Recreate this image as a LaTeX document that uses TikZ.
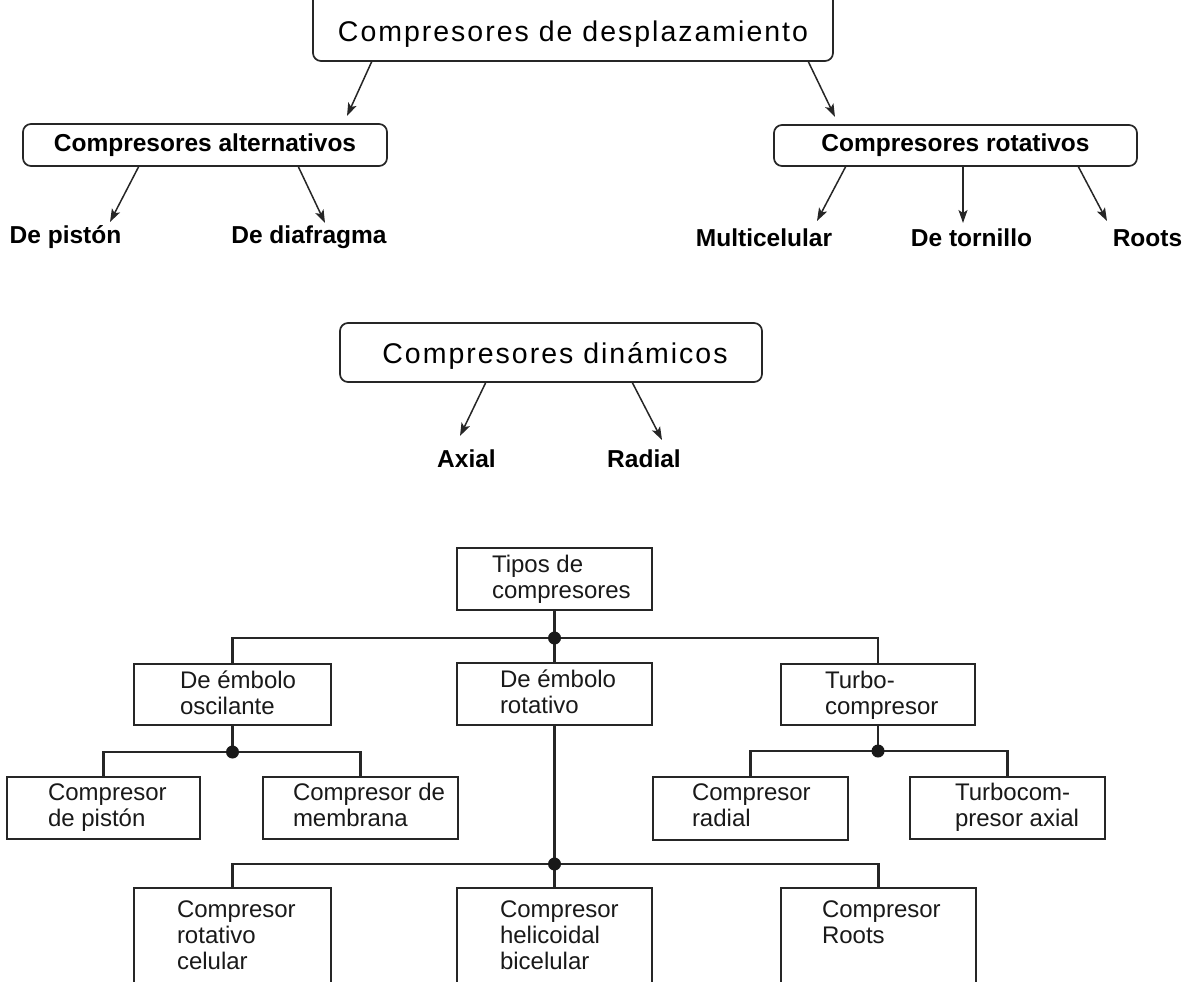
\documentclass[tikz,border=0pt]{standalone}
\usepackage{fontspec}
\setmainfont{Liberation Sans}
\newfontfamily\titlefont[LetterSpace=7]{Liberation Sans}
\usetikzlibrary{arrows.meta,calc}
\newcommand\bxt[5]{\parbox[c][#2][t]{#1}{\leftskip=#3\rightskip=0pt plus 1fil\relax\rule{0pt}{#4}#5}}
\begin{document}
\begin{tikzpicture}[x=1pt,y=-1pt,
  rbox/.style={draw=black!85, line width=1.7pt, rounded corners=8pt, inner sep=0pt, outer sep=0pt, text depth=0pt, text=black},
  ttl/.style={font=\titlefont\fontsize{28.5}{32}\selectfont},
  lab/.style={font=\bfseries\fontsize{24.5}{28}\selectfont, anchor=base, inner sep=0pt, text=black},
  arr/.style={line width=1.5pt, draw=black!85, -{Stealth[length=13pt,width=9pt,inset=3pt]}},
  lowbox/.style={draw=black!85, line width=2.3pt, inner sep=0pt, outer sep=0pt, anchor=north west, text=black!90, font=\fontsize{24}{26}\selectfont},
  conn/.style={line width=2.2pt, draw=black!85},
  dot/.style={fill=black!90}
]
\useasboundingbox (0,0) rectangle (1189,982);

% ---------- top: desplazamiento ----------
\node[rbox, ttl, minimum width=520pt, minimum height=81pt, text height=42.4pt] (title) at (573,20.5) {Compresores de desplazamiento};
\node[rbox, font=\bfseries\fontsize{24.5}{28}\selectfont, minimum width=364pt, minimum height=42pt, text height=13.4pt] (alt) at (205,145) {Compresores alternativos\hspace{16pt}};
\node[rbox, font=\bfseries\fontsize{24.5}{28}\selectfont, minimum width=363pt, minimum height=41pt, text height=12.4pt] (rotv) at (955.5,145.5) {Compresores rotativos\hspace{18pt}};

\node[lab] (piston) at (65.5,243) {De pistón};
\node[lab] (diaf) at (309,243) {De diafragma};
\node[lab] (multi) at (764,246) {Multicelular};
\node[lab] (torn) at (971.5,246) {De tornillo};
\node[lab] (roots1) at (1147.5,246) {Roots};

\coordinate (ts1) at (372,0); \coordinate (te1) at (347,116);
\coordinate (ts2) at (808,0); \coordinate (te2) at (835,117);
\draw[arr] (title.south -| ts1) -- (te1);
\draw[arr] (title.south -| ts2) -- (te2);

\coordinate (as1) at (139,0); \coordinate (ae1) at (110,222);
\coordinate (as2) at (298,0); \coordinate (ae2) at (325,223);
\draw[arr] (alt.south -| as1) -- (ae1);
\draw[arr] (alt.south -| as2) -- (ae2);

\coordinate (rs1) at (846,0); \coordinate (re1) at (817,221);
\coordinate (rs2) at (963,0); \coordinate (re2) at (963,223);
\coordinate (rs3) at (1078,0); \coordinate (re3) at (1107,221);
\draw[arr] (rotv.south -| rs1) -- (re1);
\draw[arr] (rotv.south -| rs2) -- (re2);
\draw[arr] (rotv.south -| rs3) -- (re3);

% ---------- dinamicos ----------
\node[rbox, ttl, minimum width=422pt, minimum height=59pt, text height=21.6pt] (din) at (551,352.5) {Compresores dinámicos\kern-8pt};
\node[lab] (axial) at (466.5,467) {Axial};
\node[lab] (radial1) at (644,467) {Radial};
\coordinate (ds1) at (486,0); \coordinate (de1) at (460,436);
\coordinate (ds2) at (632,0); \coordinate (de2) at (662,440);
\draw[arr] (din.south -| ds1) -- (de1);
\draw[arr] (din.south -| ds2) -- (de2);

% ---------- lower tree ----------
\node[lowbox] (tipos) at (457,548) {\bxt{195pt}{62pt}{35pt}{24pt}{Tipos de\\compresores}};
\node[lowbox] (osc) at (134,664) {\bxt{197pt}{61pt}{46pt}{24pt}{De émbolo\\oscilante}};
\node[lowbox] (rot) at (457,663) {\bxt{195pt}{62pt}{43pt}{24pt}{De émbolo\\rotativo}};
\node[lowbox] (turbo) at (781,664) {\bxt{194pt}{61pt}{44pt}{24pt}{Turbo-\\compresor}};

\node[lowbox] (cpis) at (7,777) {\bxt{193pt}{62pt}{41pt}{23pt}{Compresor\\de pistón}};
\node[lowbox] (memb) at (263,777) {\bxt{195pt}{62pt}{30pt}{23pt}{Compresor de\\membrana}};
\node[lowbox] (crad) at (653,777) {\bxt{195pt}{63pt}{39pt}{23pt}{Compresor\\radial}};
\node[lowbox] (cax) at (910,777) {\bxt{195pt}{62pt}{45pt}{23pt}{Turbocom-\\presor axial}};

\node[lowbox] (celu) at (134,888) {\bxt{197pt}{150pt}{43pt}{29pt}{Compresor\\rotativo\\celular}};
\node[lowbox] (heli) at (457,888) {\bxt{195pt}{150pt}{43pt}{29pt}{Compresor\\helicoidal\\bicelular}};
\node[lowbox] (croots) at (781,888) {\bxt{195pt}{150pt}{41pt}{29pt}{Compresor\\Roots}};

\coordinate (y1) at (0,638);
\coordinate (y2) at (0,752);
\coordinate (y3) at (0,751);
\coordinate (y4) at (0,864);
\coordinate (j1) at (tipos.south |- y1);
\coordinate (j2) at (osc.south |- y2);
\coordinate (j3) at (turbo.south |- y3);
\coordinate (j4) at (rot.south |- y4);

\draw[conn] (tipos.south) -- (rot.north);
\draw[conn] (osc.north) |- (j1) -| (turbo.north);
\draw[conn] (osc.south) -- (j2);
\draw[conn] (cpis.north) |- (j2) -| (memb.north);
\draw[conn] (turbo.south) -- (j3);
\draw[conn] (crad.north) |- (j3) -| (cax.north);
\draw[conn] (rot.south) -- (heli.north);
\draw[conn] (celu.north) |- (j4) -| (croots.north);

\fill[dot] (j1) circle (6.5pt);
\fill[dot] (j2) circle (6.5pt);
\fill[dot] (j3) circle (6.5pt);
\fill[dot] (j4) circle (6.5pt);
\end{tikzpicture}
\end{document}
